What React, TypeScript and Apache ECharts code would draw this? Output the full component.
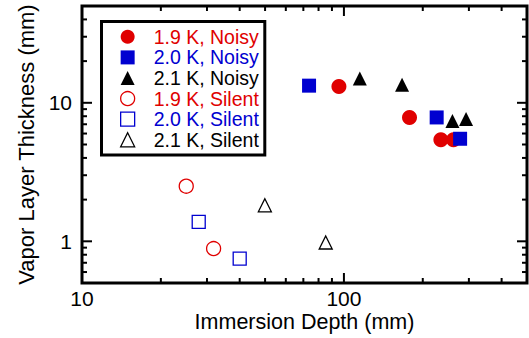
import React, { useEffect, useRef } from 'react';
import * as echarts from 'echarts';

const RED = '#e00000';
const BLUE = '#0000d0';
const BLACK = '#000000';
const FONT = '"Liberation Sans", Arial, Helvetica, sans-serif';

const seriesNames = ['1.9 K, Noisy', '2.0 K, Noisy', '2.1 K, Noisy', '1.9 K, Silent', '2.0 K, Silent', '2.1 K, Silent'];

// [immersion depth (mm), vapor layer thickness (mm)]
const noisy19 = [[95.7, 13.1], [178, 7.84], [234.5, 5.42], [262, 5.42]];
const noisy20 = [[73.6, 13.3], [226, 7.84], [277.7, 5.5]];
const noisy21 = [[115, 15.0], [166.7, 13.5], [259.6, 7.4], [292.6, 7.65]];
const silent19 = [[25.0, 2.5], [31.8, 0.886]];
const silent20 = [[27.9, 1.38], [40.0, 0.75]];
const silent21 = [[49.9, 1.82], [85.2, 0.98]];

const xMajorTicks = [10, 100];
const xMinorTicks = [20, 30, 40, 50, 60, 70, 80, 90, 200, 300, 400];
const yMajorTicks = [1, 10];
const yMinorTicks = [0.6, 0.7, 0.8, 0.9, 2, 3, 4, 5, 6, 7, 8, 9, 20, 30, 40];

const MAJOR_LEN = 10;
const MINOR_LEN = 5;

export default function App() {
  const ref = useRef<HTMLDivElement>(null);

  useEffect(() => {
    if (!ref.current) return;
    const chart = echarts.init(ref.current, undefined, { renderer: 'svg' });

    const isMajor = (v: number, list: number[]) => list.find((t) => Math.abs(v - t) / t < 1e-6);

    const tickStyle = { stroke: BLACK, lineWidth: 2 };

    const xTickSeries = {
      type: 'custom',
      name: 'xticks',
      silent: true,
      z: 10,
      data: [
        ...xMajorTicks.map((v) => [v, 1, MAJOR_LEN]),
        ...xMinorTicks.map((v) => [v, 1, MINOR_LEN]),
      ],
      renderItem: (params: any, api: any) => {
        const cs = params.coordSys;
        const px = api.coord([api.value(0), 1])[0];
        const len = api.value(2);
        const bottom = cs.y + cs.height;
        return {
          type: 'group',
          children: [
            { type: 'line', shape: { x1: px, y1: bottom, x2: px, y2: bottom - len }, style: tickStyle },
            { type: 'line', shape: { x1: px, y1: cs.y, x2: px, y2: cs.y + len }, style: tickStyle },
          ],
        };
      },
    };

    const yTickSeries = {
      type: 'custom',
      name: 'yticks',
      silent: true,
      z: 10,
      data: [
        ...yMajorTicks.map((v) => [20, v, MAJOR_LEN]),
        ...yMinorTicks.map((v) => [20, v, MINOR_LEN]),
      ],
      renderItem: (params: any, api: any) => {
        const cs = params.coordSys;
        const py = api.coord([20, api.value(1)])[1];
        const len = api.value(2);
        const right = cs.x + cs.width;
        return {
          type: 'group',
          children: [
            { type: 'line', shape: { x1: cs.x, y1: py, x2: cs.x + len, y2: py }, style: tickStyle },
            { type: 'line', shape: { x1: right, y1: py, x2: right - len, y2: py }, style: tickStyle },
          ],
        };
      },
    };

    const filled = (color: string) => ({ color, borderWidth: 0, opacity: 1 });
    const hollow = (color: string) => ({ color: '#ffffff', borderColor: color, borderWidth: 1.3, opacity: 1 });

    const defs = [
      { name: seriesNames[0], data: noisy19, symbol: 'circle', style: filled(RED), text: RED, size: 15 },
      { name: seriesNames[1], data: noisy20, symbol: 'rect', style: filled(BLUE), text: BLUE, size: 14 },
      { name: seriesNames[2], data: noisy21, symbol: 'triangle', style: filled(BLACK), text: BLACK, size: 14 },
      { name: seriesNames[3], data: silent19, symbol: 'circle', style: hollow(RED), text: RED, size: 14 },
      { name: seriesNames[4], data: silent20, symbol: 'rect', style: hollow(BLUE), text: BLUE, size: 13 },
      { name: seriesNames[5], data: silent21, symbol: 'triangle', style: hollow(BLACK), text: BLACK, size: 13 },
    ];

    const legendText = (color: string) => ({
      color,
      fontSize: 19.5,
      lineHeight: 20.6,
      fontFamily: FONT,
      padding: [0, 0, 0, 14],
    });

    chart.setOption({
      animation: false,
      backgroundColor: '#ffffff',
      textStyle: { fontFamily: FONT },
      grid: {
        left: 82,
        right: 2,
        top: 6,
        bottom: 55,
        show: true,
        borderColor: BLACK,
        borderWidth: 3,
        backgroundColor: 'transparent',
        containLabel: false,
        outerBoundsMode: 'none',
      },
      legend: {
        orient: 'vertical',
        left: 101.5,
        top: 21.5,
        padding: [5, 6, 5, 18.5],
        itemWidth: 14,
        itemHeight: 14,
        itemGap: 0,
        borderColor: BLACK,
        borderWidth: 3,
        backgroundColor: '#ffffff',
        selectedMode: false,
        textStyle: legendText(BLACK),
        data: defs.map((d) => ({
          name: d.name,
          icon: d.symbol,
          itemStyle: d.style,
          textStyle: legendText(d.text),
        })),
      },
      xAxis: {
        type: 'log',
        logBase: 10,
        min: 10,
        max: 500,
        name: 'Immersion Depth (mm)',
        nameLocation: 'middle',
        nameGap: 28,
        nameMoveOverlap: false,
        nameTextStyle: { fontSize: 21.5, lineHeight: 22, color: BLACK, fontFamily: FONT },
        axisLine: { show: false },
        axisTick: { show: false },
        splitLine: { show: false },
        minorTick: { show: false },
        axisLabel: {
          fontSize: 21,
          lineHeight: 21,
          color: BLACK,
          margin: 5,
          fontFamily: FONT,
          showMaxLabel: false,
          formatter: (v: number) => {
            const m = isMajor(v, xMajorTicks);
            return m !== undefined ? String(m) : '';
          },
        },
      },
      yAxis: {
        type: 'log',
        logBase: 10,
        min: 0.5,
        max: 50,
        name: 'Vapor Layer Thickness (mm)',
        nameLocation: 'middle',
        nameGap: 45,
        nameMoveOverlap: false,
        nameTextStyle: { fontSize: 22, color: BLACK, fontFamily: FONT },
        axisLine: { show: false },
        axisTick: { show: false },
        splitLine: { show: false },
        minorTick: { show: false },
        axisLabel: {
          fontSize: 21,
          color: BLACK,
          margin: 10,
          fontFamily: FONT,
          showMinLabel: false,
          showMaxLabel: false,
          formatter: (v: number) => {
            const m = isMajor(v, yMajorTicks);
            return m !== undefined ? String(m) : '';
          },
        },
      },
      series: [
        ...defs.map((d) => ({
          type: 'scatter',
          name: d.name,
          data: d.data,
          symbol: d.symbol,
          symbolSize: d.size,
          itemStyle: d.style,
          z: 5,
        })),
        xTickSeries,
        yTickSeries,
      ],
    } as any);

    return () => chart.dispose();
  }, []);

  return (
    <div
      ref={ref}
      style={{ position: 'fixed', left: 0, top: 0, width: 529, height: 338, background: '#fff' }}
    />
  );
}
